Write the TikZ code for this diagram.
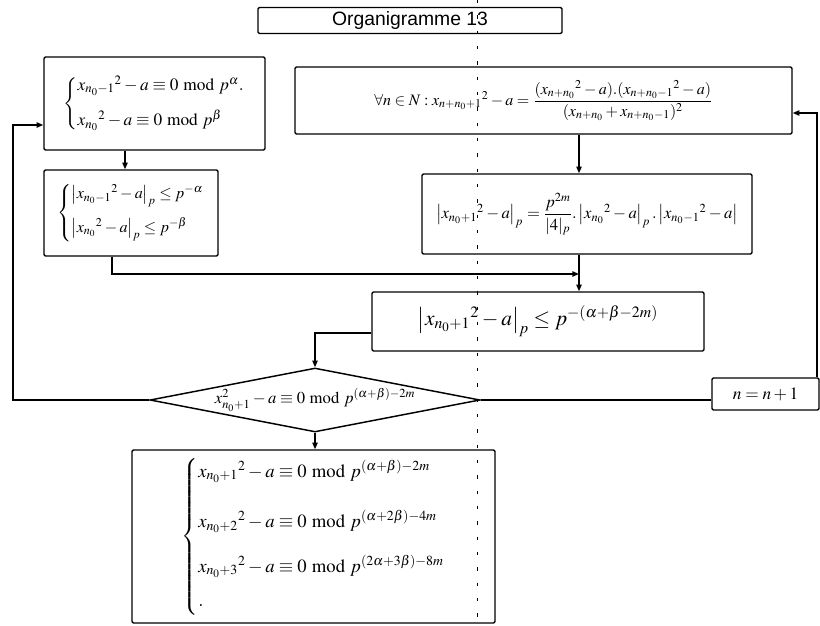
\documentclass[tikz,border=0pt]{standalone}
\usepackage{amsmath}
\usepackage{mathptmx}
\usepackage[no-math]{fontspec}
\setmainfont{Liberation Serif}
\newfontfamily\titlefont{Liberation Sans}
\usetikzlibrary{arrows.meta,shapes.geometric,calc}

\begin{document}
\begin{tikzpicture}[x=0.75pt,y=-0.75pt,
  box/.style={draw, line width=1.1pt, rectangle, rounded corners=1pt, inner sep=0pt},
  link/.style={line width=1.1pt},
  arr/.style={line width=1.1pt, -{Triangle[length=5pt,width=4pt]}},
  guide/.style={line width=0.5pt, dash pattern=on 2.5pt off 9pt},
  eqA/.style={font=\fontsize{13}{15}\selectfont},
  eqB/.style={font=\fontsize{12}{14}\selectfont},
  eqD/.style={font=\fontsize{12}{14}\selectfont},
  eqE/.style={font=\fontsize{16}{19}\selectfont},
]
\useasboundingbox (0,0) rectangle (820,625);

% vertical guide line crossing the chart
\coordinate (gtop) at (477,0);
\coordinate (gbot) at (477,622);
\draw[guide] (gtop) -- (gbot);

% title
\node[box, minimum width=304*0.75pt, minimum height=26*0.75pt] (title) at (410,20.5)
  {\titlefont\fontsize{14.5}{17}\selectfont Organigramme 13};

% initial congruences
\node[box, eqA, minimum width=221*0.75pt, minimum height=93*0.75pt] (A) at (154.5,103.5)
  {$\left\{\begin{array}{@{}l@{}}
     x_{n_0-1}{}^{2}-a\equiv 0\bmod p^{\alpha}. \\[10pt]
     x_{n_0}{}^{2}-a\equiv 0\bmod p^{\beta}
   \end{array}\right.$};

% p-adic valuations
\node[box, eqB, minimum width=174*0.75pt, minimum height=86*0.75pt] (B) at (131,213)
  {$\left\{\begin{array}{@{}l@{}}
     \left|x_{n_0-1}{}^{2}-a\right|_p\le p^{-\alpha} \\[10pt]
     \left|x_{n_0}{}^{2}-a\right|_p\le p^{-\beta}
   \end{array}\right.$};

% recurrence relation
\node[box, eqD, minimum width=497*0.75pt, minimum height=67*0.75pt] (D) at (543.5,100.5)
  {$\forall n\in N: x_{n+n_0+1}{}^{2}-a=\dfrac{(x_{n+n_0}{}^{2}-a).(x_{n+n_0-1}{}^{2}-a)}{(x_{n+n_0}+x_{n+n_0-1})^{2}}$};

% valuation identity
\node[box, font=\fontsize{12.5}{15}\selectfont, minimum width=330*0.75pt, minimum height=80*0.75pt] (C) at (587,214)
  {$\left|x_{n_0+1}{}^{2}-a\right|_p=\dfrac{p^{2m}}{|4|_p}.\left|x_{n_0}{}^{2}-a\right|_p.\left|x_{n_0-1}{}^{2}-a\right|$};

% resulting bound
\node[box, eqE, minimum width=332*0.75pt, minimum height=59*0.75pt] (E) at (538,321.5)
  {$\left|x_{n_0+1}{}^{2}-a\right|_p\le p^{-(\alpha+\beta-2m)}$};

% decision
\node[draw, line width=1.1pt, shape=diamond, aspect=5.2, inner sep=0pt,
      font=\fontsize{12.5}{15}\selectfont,
      minimum width=330*0.75pt, minimum height=64*0.75pt] (dia) at (315,400)
  {$x^{2}_{n_0+1}-a\equiv 0\bmod p^{(\alpha+\beta)-2m}$};

% increment
\node[box, font=\fontsize{13}{15}\selectfont, minimum width=107*0.75pt, minimum height=32*0.75pt] (F) at (765.5,394)
  {$n=n+1$};

% conclusion
\node[box, font=\fontsize{14}{16}\selectfont, minimum width=363*0.75pt, minimum height=173*0.75pt] (G) at (313.5,536.5)
  {$\left\{\begin{array}{@{}l@{}}
     x_{n_0+1}{}^{2}-a\equiv 0\bmod p^{(\alpha+\beta)-2m} \\[20pt]
     x_{n_0+2}{}^{2}-a\equiv 0\bmod p^{(\alpha+2\beta)-4m} \\[16pt]
     x_{n_0+3}{}^{2}-a\equiv 0\bmod p^{(2\alpha+3\beta)-8m} \\[10pt]
     .
   \end{array}\right.$};

% connectors
\coordinate (lfB) at (13,400);
\coordinate (lfT) at (13,125);
\draw[arr] (dia.west) -- (lfB) -- (lfT) -- (A.west |- lfT);

\coordinate (colAB) at (125,150);
\draw[arr] (A.south -| colAB) -- (B.north -| colAB);

\coordinate (colB) at (112,274);
\coordinate (colR) at (579,274);
\draw[arr] (B.south -| colB) -- (colB) -- (colR);

\draw[arr] (D.south -| colR) -- (C.north -| colR);
\draw[arr] (C.south -| colR) -- (E.north -| colR);

\coordinate (ed) at (315,333);
\draw[arr] (E.west |- ed) -- (ed) -- (dia.north);

\draw[link] (dia.east) -- (F.west |- dia.east);

\coordinate (rt) at (817,113);
\draw[arr] (F.north -| rt) -- (rt) -- (D.east |- rt);

\draw[arr] (dia.south) -- (G.north -| dia.south);
\end{tikzpicture}
\end{document}
